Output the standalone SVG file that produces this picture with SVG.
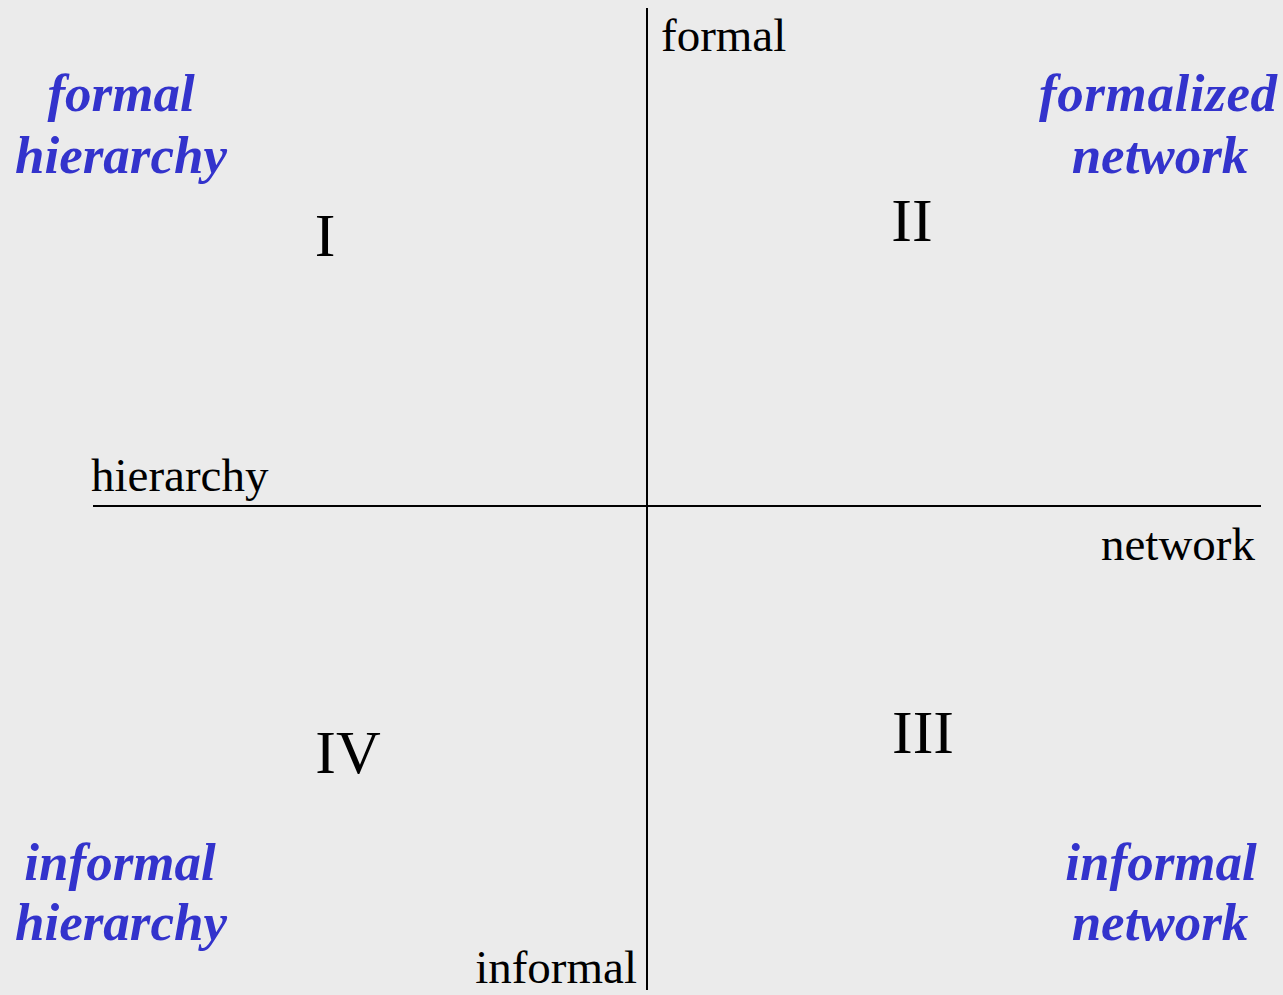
<svg xmlns="http://www.w3.org/2000/svg" width="1283" height="995" viewBox="0 0 1283 995">
<style>
.axis{stroke:#000;stroke-width:2;fill:none}
.lbl{font-family:"Liberation Serif","Times New Roman",serif;font-size:47px;fill:#000}
.num{font-family:"Liberation Serif","Times New Roman",serif;font-size:62px;fill:#000;text-anchor:middle}
.q{font-family:"Liberation Serif","Times New Roman",serif;font-size:53px;font-weight:bold;font-style:italic;fill:#3333CC;text-anchor:middle}
</style>
<rect width="1283" height="995" fill="#EBEBEB"/>
<g id="axes">
<line class="axis" x1="647" y1="8" x2="647" y2="990"/>
<line class="axis" x1="93" y1="506" x2="1261" y2="506"/>
</g>
<g id="axis-labels">
<text class="lbl" x="661" y="51">formal</text>
<text class="lbl" x="91" y="491">hierarchy</text>
<text class="lbl" x="1255" y="560" text-anchor="end">network</text>
<text class="lbl" x="637" y="983" text-anchor="end">informal</text>
</g>
<g id="quadrant-I">
<text class="num" x="325" y="256">I</text>
<text class="q" x="121" y="111">formal</text>
<text class="q" x="121" y="173">hierarchy</text>
</g>
<g id="quadrant-II">
<text class="num" x="912" y="241">II</text>
<text class="q" x="1158" y="111" textLength="238">formalized</text>
<text class="q" x="1160" y="173">network</text>
</g>
<g id="quadrant-III">
<text class="num" x="923" y="753">III</text>
<text class="q" x="1161" y="880">informal</text>
<text class="q" x="1160" y="940">network</text>
</g>
<g id="quadrant-IV">
<text class="num" x="348" y="773">IV</text>
<text class="q" x="120" y="880">informal</text>
<text class="q" x="121" y="940">hierarchy</text>
</g>
</svg>
